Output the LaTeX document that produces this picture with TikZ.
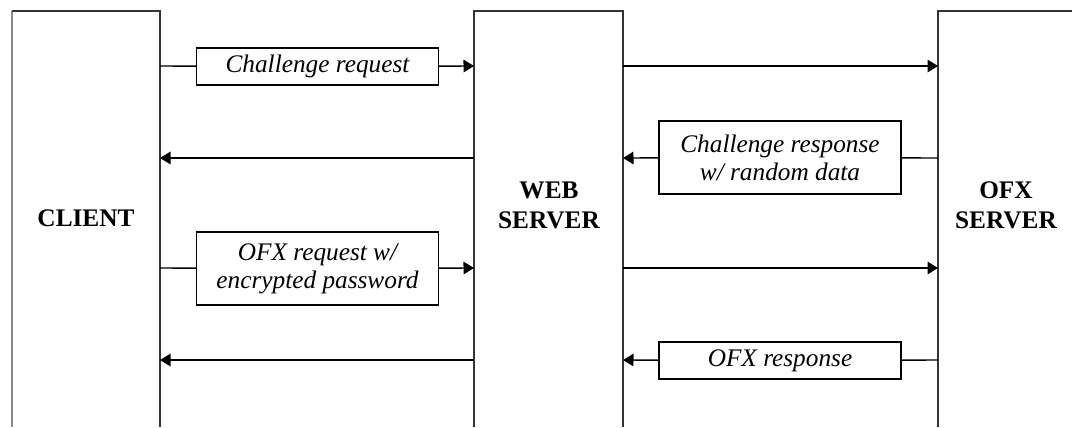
\documentclass[tikz,border=0pt]{standalone}
\usepackage{fontspec}
\setmainfont{Liberation Serif}
\usetikzlibrary{arrows.meta, positioning}

\begin{document}
\begin{tikzpicture}[x=0.02cm, y=-0.02cm,
  life/.style={line width=0.75pt, color=black!80},
  msg/.style={line width=0.8pt, -{Triangle[length=0.21cm, width=0.25cm]}},
  msgbox/.style={draw, line width=0.7pt, fill=white, minimum width=4.84cm, minimum height=0.74cm, inner ysep=0pt, align=center, font=\fontsize{14.4}{16}\selectfont\itshape},
  tallbox/.style={msgbox, minimum height=1.46cm},
  actor/.style={align=center, font=\fontsize{14.4}{17}\selectfont\bfseries}]
\useasboundingbox (0,0) rectangle (1072,427);

\coordinate (C1) at (160,66);
\coordinate (C2) at (160,158);
\coordinate (C3) at (160,268);
\coordinate (C4) at (160,360);
\coordinate (Wl1) at (474,66);
\coordinate (Wl2) at (474,158);
\coordinate (Wl3) at (474,268);
\coordinate (Wl4) at (474,360);
\coordinate (Wr1) at (623,66);
\coordinate (Wr2) at (623,158);
\coordinate (Wr3) at (623,268);
\coordinate (Wr4) at (623,360);
\coordinate (O1) at (938,66);
\coordinate (O2) at (938,158);
\coordinate (O3) at (938,268);
\coordinate (O4) at (938,360);

% lifelines
\draw[life, color=black!45] (12,427) -- (12,11);
\draw[life] (12,11) -- (160,11) -- (160,427);
\draw[life] (474,427) -- (474,11) -- (623,11) -- (623,427);
\draw[life] (938,427) -- (938,11) -- (1072,11);

\node[actor] (client) at (86,218) {CLIENT};
\node[actor] (web) at (549,205) {WEB\\SERVER};
\node[actor] (ofx) at (1006,205) {OFX\\SERVER};

\node[msgbox] (chreq) at (317.5,66.5) {Challenge request};
\node[tallbox] (chresp) at (780,157.5) {Challenge response\\w/ random data};
\node[tallbox] (ofxreq) at (317.5,268.5) {OFX request w/\\encrypted password};
\node[msgbox] (ofxresp) at (780,360.5) {OFX response};

\draw[msg] (C1) -- (chreq) -- (Wl1);
\draw[msg] (Wr1) -- (O1);
\draw[msg] (Wl2) -- (C2);
\draw[msg] (O2) -- (chresp) -- (Wr2);
\draw[msg] (C3) -- (ofxreq) -- (Wl3);
\draw[msg] (Wr3) -- (O3);
\draw[msg] (Wl4) -- (C4);
\draw[msg] (O4) -- (ofxresp) -- (Wr4);
\end{tikzpicture}
\end{document}
